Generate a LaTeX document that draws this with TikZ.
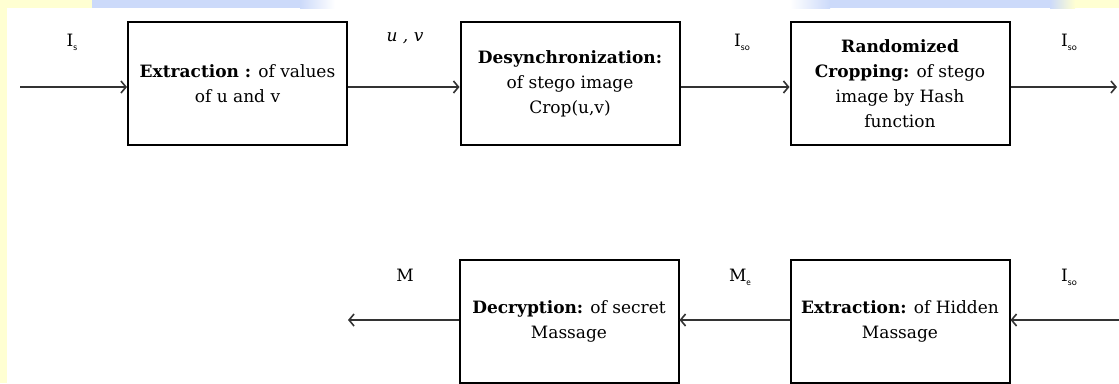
\documentclass[tikz,border=0pt]{standalone}
\usepackage{fontspec}
\setmainfont{DejaVu Serif}
\usetikzlibrary{arrows.meta}
\definecolor{bgyellow}{HTML}{FFFFD2}
\definecolor{bgblue}{HTML}{CCDAFA}
\definecolor{bglblue}{HTML}{E4F2FF}
\newcommand{\subsc}[1]{\raisebox{-4pt}{\fontsize{10}{10}\sffamily #1}}
\begin{document}
\begin{tikzpicture}[x=1pt,y=-1pt,
 blk/.style={draw=black, line width=2pt, minimum width=219pt, minimum height=123pt, align=center, inner sep=2pt, font=\fontsize{17}{25}\selectfont},
 conn/.style={draw=black!80, line width=1.6pt, -{Straight Barb[length=5pt,width=12pt]}},
 lbl/.style={font=\fontsize{17}{19}\selectfont, inner sep=0pt}]
\fill[white] (0,0) rectangle (1119,383);
\useasboundingbox (0,0) rectangle (1119,383);
\fill[bgyellow] (0,0) rectangle (7,383);
\fill[bgyellow] (0,0) rectangle (92,8);
\fill[bgblue] (92,0) rectangle (300,8);
\shade[left color=bgblue, right color=white] (300,0) rectangle (335,8);
\shade[left color=white, right color=bgblue] (790,0) rectangle (830,8);
\fill[bgblue] (830,0) rectangle (1050,8);
\shade[left color=bgblue, right color=bgyellow] (1050,0) rectangle (1075,8);
\fill[bgyellow] (1075,0) rectangle (1119,8);

\node[blk] (b1) at (237.5,83.5) {\textbf{Extraction :} of values\\of u and v};
\node[blk] (b2) at (570,83.5) {\textbf{Desynchronization:}\\of stego image\\Crop(u,v)};
\node[blk] (b3) at (900,83.5) {\textbf{Randomized}\\\textbf{Cropping:} of stego\\image by Hash\\function};
\node[blk] (b4) at (569,321) {\textbf{Decryption:} of secret\\Massage};
\node[blk] (b5) at (900,321) {\textbf{Extraction:} of Hidden\\Massage};

\coordinate (a0) at (20,87);
\coordinate (a1) at (1117,87);
\coordinate (c0) at (1119,320);
\coordinate (c1) at (348,320);

\draw[conn] (a0) -- (b1.west|-a0);
\draw[conn] (b1.east|-a0) -- (b2.west|-a0);
\draw[conn] (b2.east|-a0) -- (b3.west|-a0);
\draw[conn] (b3.east|-a0) -- (a1);
\draw[conn] (c0) -- (b5.east|-c0);
\draw[conn] (b5.west|-c0) -- (b4.east|-c0);
\draw[conn] (b4.west|-c0) -- (c1);

\node[lbl] (l1) at (72,42) {I\subsc{s}};
\node[lbl] (l2) at (405,38) {\textit{u , v}};
\node[lbl] (l3) at (742,42) {I\subsc{so}};
\node[lbl] (l4) at (1069,42) {I\subsc{so}};
\node[lbl] (l5) at (405,275) {M};
\node[lbl] (l6) at (740,277) {M\subsc{e}};
\node[lbl] (l7) at (1069,277) {I\subsc{so}};
\end{tikzpicture}
\end{document}
